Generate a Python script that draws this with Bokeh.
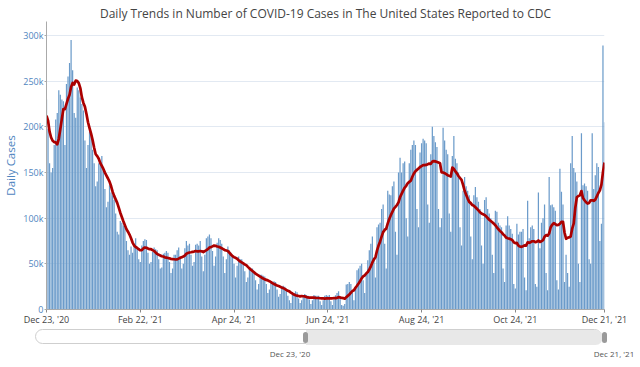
import pandas as pd
import numpy as np
from bokeh.plotting import figure
from bokeh.models import Range1d, FixedTicker, ColumnDataSource, Div
from bokeh.layouts import column
from bokeh.embed import file_html
from bokeh.resources import INLINE

# ---------------- data ----------------
start_date = "2020-12-23"
title_text = "Daily Trends in Number of COVID-19 Cases in The United States Reported to CDC"

# six days before the first bar, only used for the trailing 7-day average (thousands)
prior_cases_k = [235, 245, 195, 180, 190, 210]

# daily reported cases (thousands), one row per week (Wed..Tue)
daily_cases_k = [
    230, 198, 160, 150, 155, 180, 208,
    215, 240, 235, 230, 228, 180, 247,
    255, 270, 295, 262, 215, 210, 243,
    240, 232, 225, 218, 185, 155, 180,
    195, 190, 175, 160, 135, 140, 160,
    162, 168, 152, 132, 112, 118, 136,
    128, 125, 120, 105, 85, 82, 97,
    95, 92, 90, 75, 65, 60, 69,
    62, 70, 78, 68, 55, 52, 70,
    75, 77, 76, 62, 50, 52, 63,
    68, 66, 65, 55, 45, 46, 61,
    62, 64, 62, 52, 40, 45, 60,
    60, 65, 68, 58, 45, 50, 67,
    75, 70, 72, 60, 48, 52, 71,
    72, 70, 75, 58, 42, 60, 78,
    80, 82, 78, 64, 48, 58, 73,
    78, 76, 72, 58, 40, 55, 69,
    65, 62, 60, 50, 35, 48, 58,
    55, 55, 52, 42, 30, 35, 46,
    45, 45, 42, 32, 22, 28, 38,
    38, 37, 36, 28, 18, 22, 31,
    30, 31, 30, 22, 14, 17, 24,
    26, 25, 22, 15, 10, 7, 17.5,
    18, 20, 19, 12, 7, 10, 15.5,
    17, 16, 15, 11, 6, 10, 16,
    15, 15, 15, 9, 5, 10, 15,
    16, 15, 16, 9, 5, 11, 15.5,
    18, 20, 14, 5, 4, 6, 27.5,
    28, 30, 28, 18, 10, 25, 43,
    45, 48, 50, 32, 18, 40, 54,
    65, 72, 80, 55, 35, 90, 93,
    95, 110, 115, 72, 45, 130, 126,
    125, 135, 140, 85, 60, 150, 166,
    150, 160, 162, 100, 80, 160, 175,
    180, 185, 180, 110, 90, 172, 182,
    187, 185, 182, 115, 95, 170, 200,
    190, 183, 178, 110, 90, 100, 199,
    185, 175, 170, 105, 85, 168, 190,
    165, 160, 150, 90, 70, 130, 145,
    135, 130, 125, 80, 55, 125, 134,
    123, 118, 110, 70, 50, 120, 123,
    110, 105, 100, 60, 40, 108, 107,
    95, 92, 90, 45, 30, 92, 102,
    92, 88, 83, 28, 23, 94, 82,
    85, 85, 88, 35, 21, 119, 78,
    90, 92, 88, 28, 25, 128, 67,
    95, 100, 115, 40, 21, 145, 114,
    115, 112, 108, 32, 22, 154, 129,
    115, 30, 60, 40, 25, 160, 190,
    155, 150, 140, 50, 30, 193, 136,
    138, 135, 130, 55, 50, 193, 132,
    147, 160, 156, 75, 94, 289, 205,
]

tick_dates = ["2020-12-23", "2021-02-22", "2021-04-24", "2021-06-24",
              "2021-08-24", "2021-10-24", "2021-12-21"]
tick_labels = ["Dec 23, '20", "Feb 22, '21", "Apr 24, '21", "Jun 24, '21",
               "Aug 24, '21", "Oct 24, '21", "Dec 21, '21"]
y_tick_values = [0, 50000, 100000, 150000, 200000, 250000, 300000]
y_tick_labels = ["0", "50k", "100k", "150k", "200k", "250k", "300k"]

# ---------------- derived ----------------
t0 = pd.Timestamp(start_date)
dates = pd.date_range(t0, periods=len(daily_cases_k), freq="D")
day_idx = np.array((dates - t0).days)
cases = np.array(daily_cases_k, dtype=float) * 1000
avg = (pd.Series(prior_cases_k + daily_cases_k, dtype=float)
       .rolling(7).mean().to_numpy()[len(prior_cases_k):] * 1000)
tick_x = [int((pd.Timestamp(d) - t0).days) for d in tick_dates]

src = ColumnDataSource(dict(x=day_idx, cases=cases, avg=avg))

FONT = "Open Sans"
BLUE_TXT = "#4f85c0"

p = figure(width=640, height=328, output_backend="svg", toolbar_location=None,
           x_range=Range1d(tick_x[0], tick_x[-1]), y_range=Range1d(0, 315300),
           min_border_left=42, min_border_right=36, min_border_top=21,
           min_border_bottom=19)
p.title.text = title_text
p.title.align = "center"
p.title.text_font = FONT
p.title.text_font_size = "12px"
p.title.text_font_style = "normal"
p.title.text_color = "#444444"
p.title.standoff = 0
p.title.offset = 0

p.vbar(x="x", top="cases", width=0.8, source=src,
       fill_color="#6b9bca", line_color=None)
p.line(x="x", y="avg", source=src, line_color="#ab0000", line_width=2.7,
       line_join="round")

p.outline_line_color = None
p.xgrid.visible = False
p.ygrid.ticker = FixedTicker(ticks=y_tick_values)
p.ygrid.grid_line_color = "#e2e9f2"
p.ygrid.grid_line_width = 1

xa = p.xaxis[0]
xa.ticker = FixedTicker(ticks=tick_x)
xa.major_label_overrides = dict(zip(tick_x, tick_labels))
xa.major_label_text_font = FONT
xa.major_label_text_font_size = "9px"
xa.major_label_text_color = "#444444"
xa.axis_line_color = "#aaaaaa"
xa.major_tick_line_color = "#888888"
xa.major_tick_out = 3
xa.major_tick_in = 0
xa.minor_tick_line_color = None
xa.major_label_standoff = 0

ya = p.yaxis[0]
ya.ticker = FixedTicker(ticks=y_tick_values)
ya.major_label_overrides = dict(zip(y_tick_values, y_tick_labels))
ya.major_label_text_font = FONT
ya.major_label_text_font_size = "9px"
ya.major_label_text_color = BLUE_TXT
ya.axis_line_color = "#aaaaaa"
ya.major_tick_line_color = "#aaaaaa"
ya.major_tick_out = 2
ya.major_tick_in = 0
ya.minor_tick_line_color = None
ya.major_label_standoff = 1
ya.axis_label = "Daily Cases"
ya.axis_label_text_font = FONT
ya.axis_label_text_font_size = "11.5px"
ya.axis_label_text_font_style = "normal"
ya.axis_label_text_color = BLUE_TXT
ya.axis_label_standoff = 2

# ---------------- range slider (HTML decoration, no plot frame) ----------------
slider_html = f"""
<div style="position:relative;width:640px;height:39px;overflow:hidden;font-family:'Open Sans',sans-serif;">
  <div style="position:absolute;left:35px;top:1px;width:567px;height:15px;border:1px solid #cfcfcf;border-radius:9px;background:#ffffff;"></div>
  <div style="position:absolute;left:306px;top:2px;width:297px;height:15px;border-radius:0 8px 8px 0;background:#e8e8e8;"></div>
  <div style="position:absolute;left:303px;top:4px;width:5px;height:11px;border-radius:3px;background:#9a9a9a;"></div>
  <div style="position:absolute;left:602px;top:4px;width:5px;height:11px;border-radius:3px;background:#9a9a9a;"></div>
  <div style="position:absolute;left:260px;top:20px;width:60px;text-align:center;font-size:8px;line-height:11px;color:#555;white-space:nowrap;">{tick_labels[0]}</div>
  <div style="position:absolute;left:592px;top:20px;width:44px;text-align:center;font-size:8px;line-height:11px;color:#555;white-space:nowrap;">{tick_labels[-1]}</div>
</div>
"""
s = Div(text=slider_html, width=640, height=39, margin=0)

layout = column(p, s, spacing=0)
open("out.html", "w").write(file_html(layout, INLINE))
